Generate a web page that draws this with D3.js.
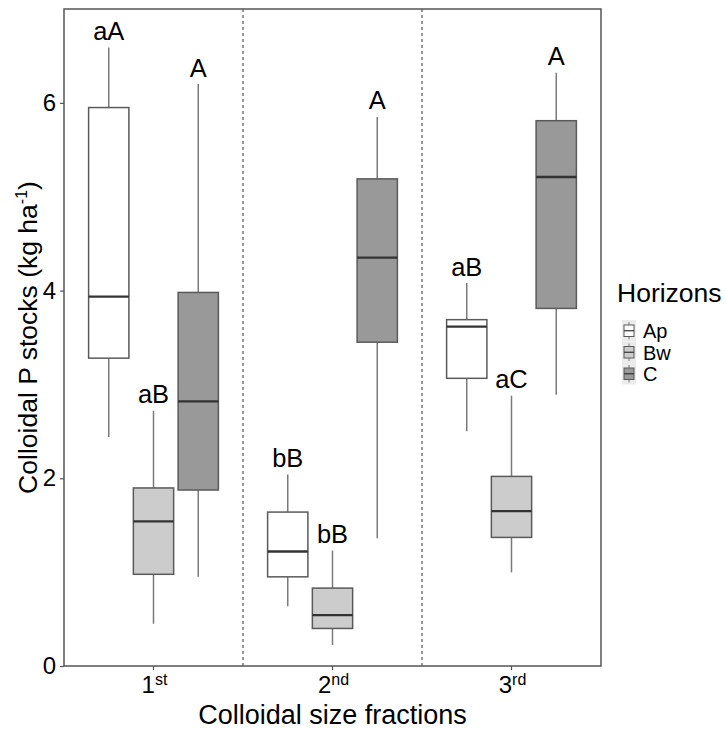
<!DOCTYPE html>
<html><head><meta charset="utf-8">
<script src="https://cdn.jsdelivr.net/npm/d3@7"></script>
<style>body{margin:0;background:#fff}svg{display:block;font-family:"Liberation Sans",Arial,sans-serif}</style>
</head><body>
<script>
const fractions = ["1st","2nd","3rd"];
const fractionBase = ["1","2","3"];
const fractionSup = ["st","nd","rd"];
const horizons = ["Ap","Bw","C"];
const fills = ["#ffffff","#cccccc","#999999"];
// [fraction, horizon, whiskerLow, q1, median, q3, whiskerHigh, letters]
const boxes = [
  ["1st","Ap",2.44,3.28,3.935,5.95,6.59,"aA"],
  ["1st","Bw",0.45,0.977,1.54,1.897,2.72,"aB"],
  ["1st","C",0.95,1.875,2.82,3.98,6.20,"A"],
  ["2nd","Ap",0.636,0.95,1.22,1.64,2.04,"bB"],
  ["2nd","Bw",0.224,0.40,0.543,0.83,1.23,"bB"],
  ["2nd","C",1.36,3.45,4.35,5.19,5.85,"A"],
  ["3rd","Ap",2.50,3.065,3.615,3.69,4.08,"aB"],
  ["3rd","Bw",0.998,1.37,1.65,2.02,2.88,"aC"],
  ["3rd","C",2.89,3.81,5.21,5.81,6.32,"A"]
];
const yTicks = [0,2,4,6];

const W=726,H=729;
const m={left:64,right:601,top:9,bottom:666};
const svg=d3.select("body").append("svg").attr("width",W).attr("height",H);

const x=d3.scaleBand().domain(fractions).range([m.left,m.right]).padding(0);
const bw=x.bandwidth();
const dodge=d3.scaleBand().domain(horizons).range([-0.375*bw,0.375*bw]).padding(0);
const boxW=dodge.bandwidth()*0.9;
const y=d3.scaleLinear().domain([0,7]).range([m.bottom,m.top]);

// dividers
const dividers=fractions.slice(1).map(f=>x(f));
svg.selectAll("line.div").data(dividers).enter().append("line")
  .attr("x1",d=>d).attr("x2",d=>d).attr("y1",m.top).attr("y2",m.bottom)
  .attr("stroke","#333").attr("stroke-width",1).attr("stroke-dasharray","3,3");

// boxes
const g=svg.append("g");
boxes.forEach(b=>{
  const cx=x(b[0])+bw/2+dodge(b[1])+dodge.bandwidth()/2;
  const fill=fills[horizons.indexOf(b[1])];
  g.append("line").attr("x1",cx).attr("x2",cx).attr("y1",y(b[6])).attr("y2",y(b[5])).attr("stroke","#7a7a7a").attr("stroke-width",1.5);
  g.append("line").attr("x1",cx).attr("x2",cx).attr("y1",y(b[3])).attr("y2",y(b[2])).attr("stroke","#7a7a7a").attr("stroke-width",1.5);
  g.append("rect").attr("x",cx-boxW/2).attr("y",y(b[5])).attr("width",boxW).attr("height",y(b[3])-y(b[5]))
    .attr("fill",fill).attr("stroke","#5a5a5a").attr("stroke-width",1.5);
  g.append("line").attr("x1",cx-boxW/2).attr("x2",cx+boxW/2).attr("y1",y(b[4])).attr("y2",y(b[4])).attr("stroke","#333").attr("stroke-width",2.3);
  g.append("text").attr("x",cx).attr("y",y(b[6])-7.5).attr("text-anchor","middle")
    .attr("font-size",25.5).attr("fill","#000").text(b[7]);
});

// panel border
svg.append("rect").attr("x",m.left).attr("y",m.top).attr("width",m.right-m.left).attr("height",m.bottom-m.top)
  .attr("fill","none").attr("stroke","#555").attr("stroke-width",1.5);

// y axis
const ya=svg.append("g").attr("transform",`translate(${m.left},0)`)
  .call(d3.axisLeft(y).tickValues(yTicks).tickSize(4).tickPadding(4).tickFormat(d3.format("d")));
ya.select(".domain").remove();
ya.selectAll(".tick line").attr("stroke","#555").attr("stroke-width",1.2);
ya.selectAll(".tick text").attr("font-size",24).attr("fill","#000").attr("font-family","Liberation Sans, Arial, sans-serif");

// x axis
const xa=svg.append("g").attr("transform",`translate(0,${m.bottom})`)
  .call(d3.axisBottom(x).tickSize(4).tickPadding(5).tickFormat(""));
xa.select(".domain").remove();
xa.selectAll(".tick line").attr("stroke","#555").attr("stroke-width",1.2);
xa.selectAll(".tick text").remove();
fractions.forEach((f,i)=>{
  const t=svg.append("text").attr("x",x(f)+bw/2+1).attr("y",m.bottom+27).attr("text-anchor","middle")
    .attr("font-size",24).attr("fill","#000");
  t.append("tspan").text(fractionBase[i]);
  t.append("tspan").attr("font-size",16).attr("dy",-8).text(fractionSup[i]);
});

// axis titles
svg.append("text").attr("x",(m.left+m.right)/2).attr("y",724).attr("text-anchor","middle")
  .attr("font-size",27).attr("fill","#000").text("Colloidal size fractions");
const yt=svg.append("text").attr("transform",`translate(37,${(m.top+m.bottom)/2}) rotate(-90)`)
  .attr("text-anchor","middle").attr("font-size",26.5).attr("fill","#000");
yt.append("tspan").text("Colloidal P stocks (kg ha");
yt.append("tspan").attr("font-size",16).attr("dy",-10).text("-1");
yt.append("tspan").attr("dy",10).text(")");

// legend
const lg=svg.append("g");
lg.append("text").attr("x",617).attr("y",302).attr("font-size",26.5).attr("fill","#000").text("Horizons");
const keyH=21.5, keyTop=320, keyX=622, keyW=14;
horizons.forEach((h,i)=>{
  const ky=keyTop+i*keyH;
  lg.append("rect").attr("x",keyX).attr("y",ky).attr("width",keyW).attr("height",keyH).attr("fill","#ebebeb");
  const cx=keyX+keyW/2;
  lg.append("line").attr("x1",cx).attr("x2",cx).attr("y1",ky+2).attr("y2",ky+keyH-2).attr("stroke","#7a7a7a").attr("stroke-width",1);
  lg.append("rect").attr("x",cx-5).attr("y",ky+5).attr("width",10).attr("height",keyH-10).attr("fill",fills[i]).attr("stroke","#5a5a5a").attr("stroke-width",1);
  lg.append("line").attr("x1",cx-5).attr("x2",cx+5).attr("y1",ky+keyH/2).attr("y2",ky+keyH/2).attr("stroke","#333").attr("stroke-width",1.2);
  lg.append("text").attr("x",643).attr("y",ky+keyH/2+7.5).attr("font-size",20).attr("fill","#000").text(h);
});
</script>
</body></html>
